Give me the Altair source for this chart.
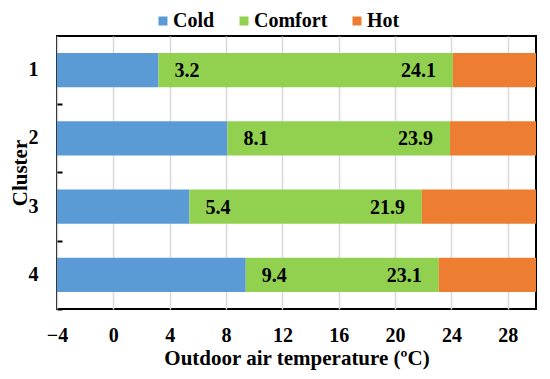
import altair as alt
import pandas as pd

clusters = ["1", "2", "3", "4"]
cold_upper = [3.2, 8.1, 5.4, 9.4]
hot_lower = [24.1, 23.9, 21.9, 23.1]
x_min, x_max = -4, 30
x_ticks = [-4, 0, 4, 8, 12, 16, 20, 24, 28]
segments = ["Cold", "Comfort", "Hot"]
colors = ["#5B9BD5", "#92D050", "#ED7D31"]

rows = []
for c, lo, hi in zip(clusters, cold_upper, hot_lower):
    rows.append({"cluster": c, "zone": "Cold", "start": x_min, "end": lo})
    rows.append({"cluster": c, "zone": "Comfort", "start": lo, "end": hi})
    rows.append({"cluster": c, "zone": "Hot", "start": hi, "end": x_max})
seg_df = pd.DataFrame(rows)
lab_df = pd.DataFrame({"cluster": clusters, "cold": cold_upper, "hot": hot_lower})

FONT = "Liberation Serif"

y_scale = alt.Scale(domain=clusters, paddingInner=0.5, paddingOuter=0.25)
x_scale = alt.Scale(domain=[x_min, x_max], nice=False, zero=False)

x_enc = alt.X(
    "start:Q",
    scale=x_scale,
    axis=alt.Axis(
        values=x_ticks, title="Outdoor air temperature (ºC)", ticks=False, domain=False,
        grid=True, gridColor="#d9d9d9", gridWidth=1.5, labelPadding=16,
        labelFontSize=20, titleFontSize=21, titlePadding=2, labelFlush=False,
        format="d",
    ),
)

bars = alt.Chart(seg_df).mark_bar().encode(
    y=alt.Y(
        "cluster:N", scale=y_scale, sort=clusters,
        axis=alt.Axis(
            title="Cluster", ticks=False, domain=False, labelPadding=19,
            labelFontSize=20, titleFontSize=21, labelAngle=0,
            titleX=-37, titleY=136.5, titleAngle=270, titleAlign="center",
            titleBaseline="middle",
        ),
    ),
    x=x_enc,
    x2="end:Q",
    color=alt.Color(
        "zone:N",
        scale=alt.Scale(domain=segments, range=colors),
        legend=alt.Legend(
            title=None, orient="none", direction="horizontal", legendX=96, legendY=-25,
            symbolType="square", symbolSize=81, symbolStrokeWidth=0, labelFontSize=20,
            labelOffset=0, columnPadding=19, padding=0,
        ),
    ),
)

left_labels = alt.Chart(lab_df).mark_text(
    align="left", baseline="middle", dx=16, dy=1, fontSize=20, fontWeight="bold", font=FONT, color="black"
).encode(
    y=alt.Y(
        "cluster:N", scale=y_scale, sort=clusters,
        axis=alt.Axis(
            orient="right", offset=-479, labels=False, title=None, domain=False, grid=False,
            ticks=True, tickOffset=34, tickSize=5, tickWidth=2, tickColor="black",
        ),
    ),
    x=alt.X("cold:Q", scale=x_scale),
    text=alt.Text("cold:Q", format=".1f"),
)

right_labels = alt.Chart(lab_df).mark_text(
    align="right", baseline="middle", dx=-17, dy=1, fontSize=20, fontWeight="bold", font=FONT, color="black"
).encode(
    y=alt.Y("cluster:N", scale=y_scale, sort=clusters, axis=None),
    x=alt.X("hot:Q", scale=x_scale),
    text=alt.Text("hot:Q", format=".1f"),
)

chart = (
    alt.layer(bars, left_labels, right_labels)
    .resolve_axis(y="independent")
    .properties(
        width=479, height=273,
        autosize=alt.AutoSizeParams(type="none"),
        padding={"left": 49, "top": 28, "right": 6, "bottom": 62},
    )
    .configure(font=FONT)
    .configure_view(stroke="black", strokeWidth=2)
    .configure_axis(labelFont=FONT, titleFont=FONT, labelFontWeight="bold", titleFontWeight="bold",
                    labelColor="black", titleColor="black")
    .configure_legend(labelFont=FONT, labelFontWeight="bold", labelColor="black")
)

chart.save("out.html", embed_options={"renderer": "svg", "actions": False})
